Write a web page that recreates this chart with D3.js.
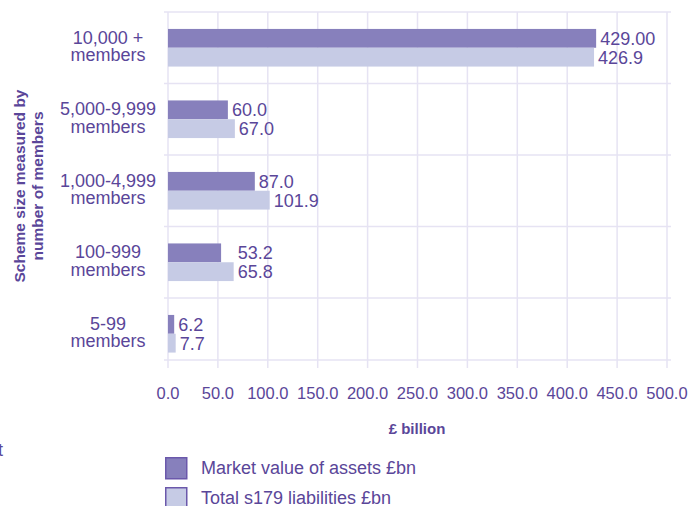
<!DOCTYPE html>
<html>
<head>
<meta charset="utf-8">
<script src="https://cdn.jsdelivr.net/npm/d3@7"></script>
<style>
  body { margin: 0; background: #fff; }
  text { font-family: "Liberation Sans", Arial, sans-serif; }
</style>
</head>
<body>
<script>
// scheme size bands, top to bottom
const categories = [
  ["10,000 +", "members"],
  ["5,000-9,999", "members"],
  ["1,000-4,999", "members"],
  ["100-999", "members"],
  ["5-99", "members"]
];
const series = ["Market value of assets £bn", "Total s179 liabilities £bn"];
const assets = [429.0, 60.0, 87.0, 53.2, 6.2];
const liabilities = [426.9, 67.0, 101.9, 65.8, 7.7];
const assetLabels = ["429.00", "60.0", "87.0", "53.2", "6.2"];
const liabilityLabels = ["426.9", "67.0", "101.9", "65.8", "7.7"];
const xTicks = [0, 50, 100, 150, 200, 250, 300, 350, 400, 450, 500];

const textCol = "#5a4699";
const colors = ["#8780bc", "#c6cbe5"];
const gridCol = "#e6e3f3";

const svg = d3.select("body").append("svg")
  .attr("width", 694)
  .attr("height", 506);

const x = d3.scaleLinear().domain([0, 500]).range([168, 667]);
const y = d3.scaleBand().domain(d3.range(categories.length)).range([12, 369.5]);
const inner = d3.scaleBand().domain([0, 1]).range([0, y.bandwidth()]).paddingOuter(0.9);

const baseY = 360;

// horizontal grid lines (band edges)
const hLines = d3.range(categories.length).map(i => y(i)).filter(v => v < baseY);
hLines.push(baseY);
svg.selectAll("line.h").data(hLines).enter().append("line")
  .attr("x1", 164).attr("x2", 671)
  .attr("y1", d => d).attr("y2", d => d)
  .attr("stroke", gridCol).attr("stroke-width", 1.5);

// vertical grid lines with ticks below the base
svg.selectAll("line.v").data(xTicks).enter().append("line")
  .attr("x1", d => x(d)).attr("x2", d => x(d))
  .attr("y1", 12).attr("y2", 368)
  .attr("stroke", gridCol).attr("stroke-width", 1.5);

// x tick labels
svg.selectAll("text.xt").data(xTicks).enter().append("text")
  .attr("x", d => x(d)).attr("y", 399)
  .attr("text-anchor", "middle")
  .attr("font-size", "16.5px")
  .attr("fill", textCol)
  .text(d => d3.format(".1f")(d));

svg.append("text")
  .attr("x", 417).attr("y", 434)
  .attr("text-anchor", "middle")
  .attr("font-size", "15px").attr("font-weight", "bold")
  .attr("fill", textCol)
  .text("£ billion");

// bars
const rows = categories.map((c, i) => ({ i, vals: [assets[i], liabilities[i]], labels: [assetLabels[i], liabilityLabels[i]] }));
const g = svg.selectAll("g.row").data(rows).enter().append("g")
  .attr("transform", d => `translate(0,${y(d.i)})`);

g.selectAll("rect").data(d => d.vals.map((v, s) => ({ v, s }))).enter().append("rect")
  .attr("x", x(0))
  .attr("y", d => inner(d.s))
  .attr("width", d => x(d.v) - x(0))
  .attr("height", inner.bandwidth())
  .attr("fill", d => colors[d.s]);

g.selectAll("text.val").data(d => d.vals.map((v, s) => ({ v, s, label: d.labels[s], row: d }))).enter().append("text")
  .attr("x", d => {
    // the 100-999 asset label sits in line with its liability label
    const v = d.row.i === 3 ? d3.max(d.row.vals) : d.v;
    return x(v) + 4;
  })
  .attr("y", d => inner(d.s) + inner.bandwidth() / 2)
  .attr("dy", "0.36em")
  .attr("font-size", "18px")
  .attr("fill", textCol)
  .text(d => d.label);

// category labels
const cl = svg.selectAll("text.cat").data(categories).enter().append("text")
  .attr("x", 108)
  .attr("y", (d, i) => y(i) + y.bandwidth() / 2)
  .attr("text-anchor", "middle")
  .attr("font-size", "18px")
  .attr("fill", textCol);
cl.append("tspan").attr("x", 108).attr("dy", "-0.22em").text(d => d[0]);
cl.append("tspan").attr("x", 108).attr("dy", "0.98em").text(d => d[1]);

// y axis title
const yt = svg.append("text")
  .attr("transform", "translate(25,186) rotate(-90)")
  .attr("text-anchor", "middle")
  .attr("font-size", "15.5px").attr("font-weight", "bold")
  .attr("fill", textCol);
yt.append("tspan").attr("x", 0).attr("dy", 0).text("Scheme size measured by");
yt.append("tspan").attr("x", 0).attr("dy", "1.15em").text("number of members");

// legend
const lg = svg.selectAll("g.leg").data(series).enter().append("g")
  .attr("transform", (d, i) => `translate(165,${457 + i * 30})`);
lg.append("rect")
  .attr("x", 0.75).attr("y", 0.75)
  .attr("width", 21).attr("height", 21)
  .attr("fill", (d, i) => colors[i])
  .attr("stroke", "#6b58ab").attr("stroke-width", 1.5);
lg.append("text")
  .attr("x", 36).attr("y", 11)
  .attr("dy", "0.36em")
  .attr("font-size", "18px")
  .attr("fill", textCol)
  .text(d => d);

// clipped stray character at the left edge
svg.append("text")
  .attr("x", -2).attr("y", 456)
  .attr("font-size", "18px")
  .attr("fill", textCol)
  .text("t");
</script>
</body>
</html>
